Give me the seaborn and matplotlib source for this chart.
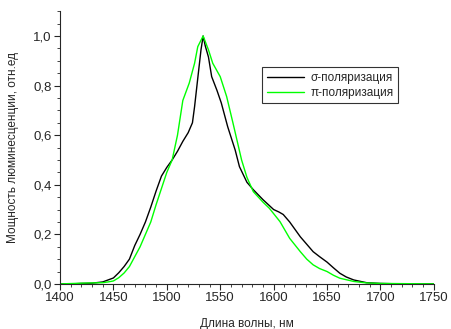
import matplotlib
matplotlib.use("Agg")
import matplotlib.pyplot as plt
import seaborn as sns
from matplotlib.ticker import MultipleLocator, FuncFormatter

# Данные
wl_sigma = [1400, 1410, 1420, 1430, 1440, 1445, 1450, 1455, 1460, 1465, 1470, 1475,
            1480, 1485, 1490, 1495, 1500, 1505, 1510, 1515, 1520, 1524, 1526, 1529,
            1532, 1534, 1536, 1539, 1542, 1547, 1551, 1557, 1564, 1568, 1575, 1581,
            1590, 1600, 1605, 1609, 1615, 1620, 1625, 1630, 1637, 1643, 1650, 1656,
            1662, 1668, 1675, 1687, 1700, 1720, 1750]
val_sigma = [0.0, 0.0, 0.002, 0.003, 0.008, 0.016, 0.024, 0.045, 0.07, 0.10, 0.155, 0.20,
             0.25, 0.31, 0.375, 0.435, 0.47, 0.50, 0.535, 0.575, 0.61, 0.65, 0.715, 0.83,
             0.944, 1.0, 0.96, 0.915, 0.836, 0.78, 0.73, 0.634, 0.54, 0.473, 0.41, 0.38,
             0.34, 0.30, 0.29, 0.28, 0.25, 0.22, 0.19, 0.165, 0.13, 0.11, 0.088, 0.065,
             0.043, 0.028, 0.016, 0.005, 0.002, 0.0, 0.0]

wl_pi = [1400, 1420, 1440, 1445, 1450, 1455, 1460, 1465, 1470, 1475, 1480, 1485,
         1490, 1495, 1500, 1505, 1510, 1515, 1521, 1526, 1529, 1534, 1539, 1543,
         1550, 1556, 1562, 1570, 1575, 1581, 1590, 1596, 1606, 1615, 1625, 1631,
         1637, 1643, 1650, 1656, 1662, 1675, 1687, 1700, 1750]
val_pi = [0.0, 0.003, 0.005, 0.008, 0.012, 0.025, 0.044, 0.07, 0.11, 0.15, 0.20, 0.25,
          0.32, 0.385, 0.45, 0.50, 0.60, 0.74, 0.81, 0.89, 0.957, 1.0, 0.944, 0.89,
          0.836, 0.756, 0.648, 0.50, 0.43, 0.372, 0.33, 0.305, 0.251, 0.184, 0.13, 0.10,
          0.077, 0.062, 0.05, 0.035, 0.023, 0.01, 0.004, 0.002, 0.0]

sns.set_style("ticks")
plt.rcParams["font.family"] = ["Liberation Sans", "DejaVu Sans"]

fig = plt.figure(figsize=(4.51, 3.29), dpi=100)
ax = fig.add_axes([0.133, 0.137, 0.829, 0.829])

sns.lineplot(x=wl_sigma, y=val_sigma, ax=ax, color="black", linewidth=1.0,
             label="σ-поляризация")
sns.lineplot(x=wl_pi, y=val_pi, ax=ax, color="#00ff00", linewidth=1.0,
             label="π-поляризация")

ax.set_xlim(1400, 1750)
ax.set_ylim(0, 1.1)
ax.xaxis.set_major_locator(MultipleLocator(50))
ax.xaxis.set_minor_locator(MultipleLocator(10))
ax.yaxis.set_major_locator(MultipleLocator(0.2))
ax.yaxis.set_minor_locator(MultipleLocator(0.05))
ax.yaxis.set_major_formatter(FuncFormatter(lambda v, p: f"{v:.1f}".replace(".", ",")))
ax.tick_params(which="major", direction="out", length=4, width=0.8, labelsize=9.5, pad=2)
ax.tick_params(which="minor", direction="out", length=2, width=0.6)
sns.despine(ax=ax)

ax.set_xlabel("Длина волны, нм", fontsize=8.5, labelpad=10)
ax.set_ylabel("Мощность люминесценции, отн.ед", fontsize=8.5, labelpad=10)

leg = ax.legend(loc="upper left", bbox_to_anchor=(0.54, 0.795), fontsize=8.5,
                frameon=True, fancybox=False, handlelength=3.2,
                borderpad=0.4, labelspacing=0.25, handletextpad=0.5,
                borderaxespad=0)
leg.get_frame().set_edgecolor("black")
leg.get_frame().set_linewidth(0.8)

fig.savefig("out.png", dpi=100)
